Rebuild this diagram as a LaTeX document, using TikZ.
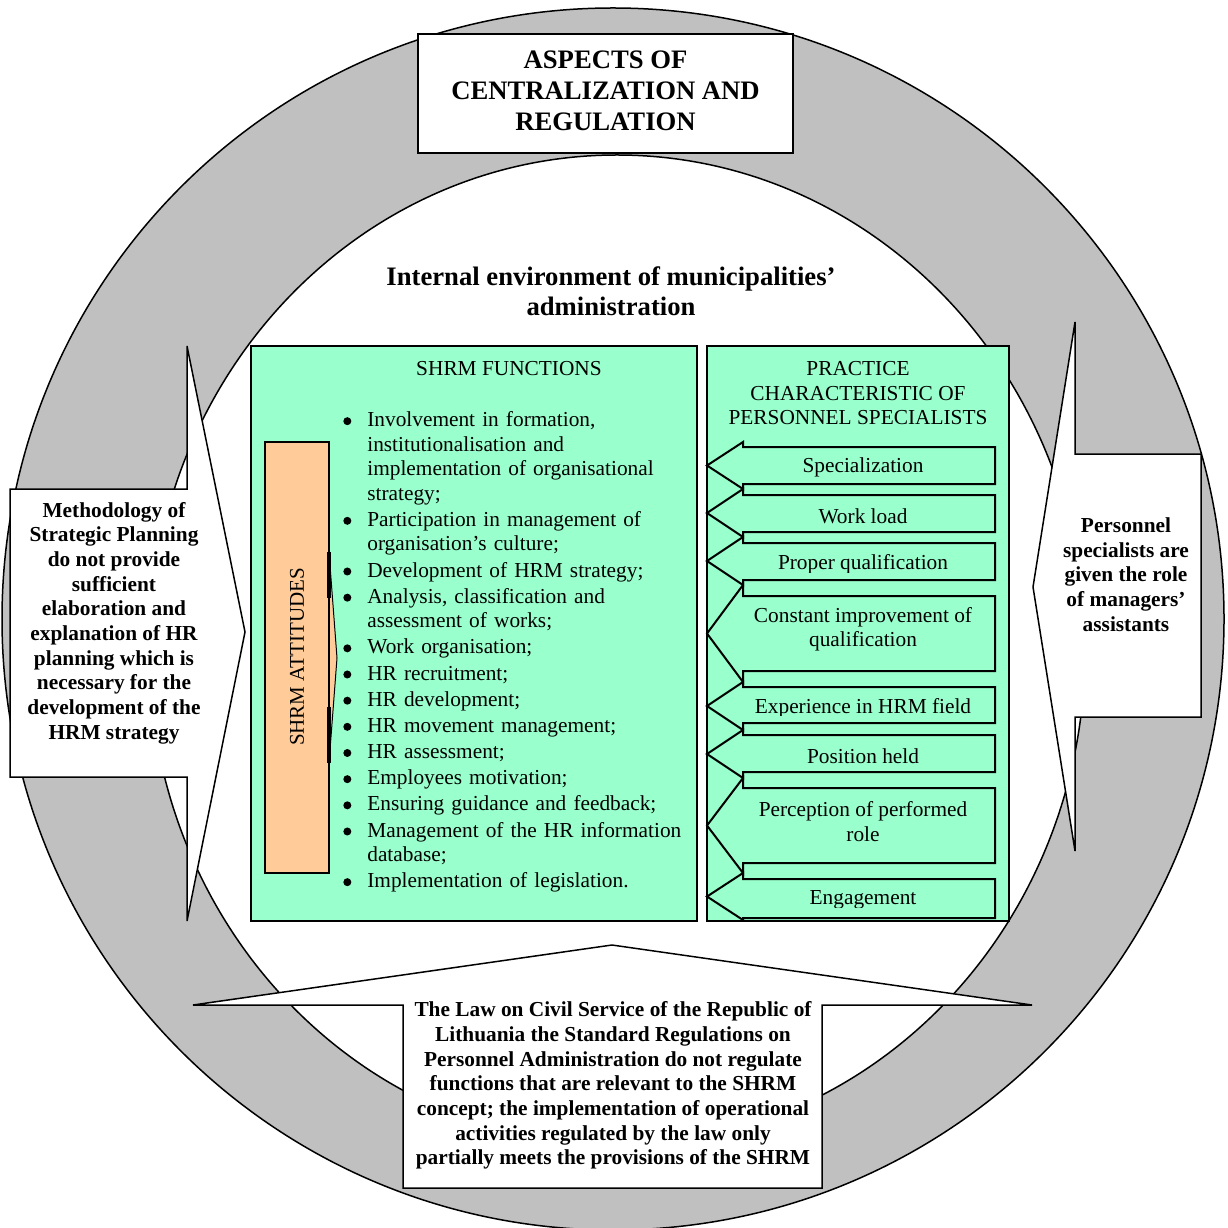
\documentclass[tikz,border=0pt]{standalone}
\usepackage{fontspec}
\setmainfont{Liberation Serif}
\definecolor{ringgray}{HTML}{C0C0C0}
\definecolor{mint}{HTML}{99FFCC}
\definecolor{peach}{HTML}{FFCC99}

\tikzset{
  boxframe/.style={draw=black, line width=1.2pt},
  callout/.style={draw=black, fill=white, line width=0.9pt},
  boldtext/.style={font=\fontsize{12.8}{14.8}\selectfont\bfseries, align=center, inner sep=0pt},
  plaintext/.style={font=\fontsize{12.8}{14.7}\selectfont, align=center, inner sep=0pt},
  headtext/.style={font=\fontsize{16}{18.6}\selectfont\bfseries, align=center, inner sep=0pt},
  parrow/.style={draw=black, fill=mint, line width=1.2pt},
}

% round list bullet
\newcommand\listdot{\tikz[baseline=0pt]\fill[black] (0pt,3.4pt) circle (2.4pt);}

% One left-pointing arrow of the practice column:
% #1 name, #2 body top, #3 body bottom, #4 head top, #5 head bottom,
% #6 text, #7 text centre, #8 lower edge of the text frame
\newcommand\practicearrow[8]{%
  \draw[parrow] (995,#2) -- (743,#2) -- (743,#4) -- (707,{(#4+#5)/2})
    -- (743,#5) -- (743,#3) -- (995,#3) -- cycle;
  \begin{scope}
    \clip (744,#2) rectangle (994,#8);
    \node[plaintext] (#1) at (863,#7) {#6};
  \end{scope}}

\begin{document}
\begin{tikzpicture}[x=0.6pt, y=-0.6pt]
\useasboundingbox (0,0) rectangle (1227,1228);
\fill[white] (0,0) rectangle (1227,1228);

% ring
\filldraw[fill=ringgray, draw=black, line width=0.9pt] (613,619) circle [radius=611];
\filldraw[fill=white, draw=black, line width=0.9pt] (617,650) ellipse [x radius=468, y radius=495];

% top heading box
\node[boxframe, fill=white, minimum width=375*0.6pt, minimum height=119*0.6pt,
      inner sep=0pt] (aspects) at (605.5,93.5) {};
\node[headtext] (aspectstxt) at (605.5,91) {ASPECTS OF\\CENTRALIZATION AND\\REGULATION};

% internal environment heading
\node[font=\fontsize{16}{18}\selectfont\bfseries, align=center, inner sep=0pt]
  (internal) at (611,291) {Internal environment of municipalities'\\administration};

% left callout
\draw[callout] (10,489) -- (187,489) -- (187,346) -- (245,632) -- (187,921)
  -- (187,777) -- (10,777) -- cycle;
\node[boldtext] (method) at (114,623) {Methodology of\\Strategic Planning\\do not provide\\sufficient\\elaboration and\\explanation of HR\\planning which is\\necessary for the\\development of the\\HRM strategy};

% right callout
\draw[callout] (1201,454) -- (1075,454) -- (1075,322) -- (1033,587) -- (1075,851)
  -- (1075,717) -- (1201,717) -- cycle;
\node[boldtext] (role) at (1126,574.5) {Personnel\\specialists are\\given the role\\of managers'\\assistants};

% bottom callout
\draw[callout] (403,1188) -- (403,1005) -- (193,1005) -- (612,945) -- (1032,1005)
  -- (822,1005) -- (822,1188) -- cycle;
\node[boldtext] (law) at (613,1085.5) {The Law on Civil Service of the Republic of\\Lithuania the Standard Regulations on\\Personnel Administration do not regulate\\functions that are relevant to the SHRM\\concept; the implementation of operational\\activities regulated by the law only\\partially meets the provisions of the SHRM};

% SHRM functions panel
\filldraw[boxframe, fill=mint] (251,346) rectangle (697,921);
\node[plaintext] (functitle) at (509,369) {SHRM FUNCTIONS};

% SHRM attitudes bar with its small pointer
\filldraw[draw=black, fill=peach, line width=0.6pt] (329,552) -- (337,658) -- (329,763) -- cycle;
\filldraw[boxframe, fill=peach] (265,442) rectangle (329,873);
\draw[line width=2pt] (329,552) -- (329,598) (329,707) -- (329,763);
\node[font=\fontsize{12.6}{14}\selectfont, rotate=90, inner sep=0pt] (attitudes) at (297,657) {SHRM ATTITUDES};

\node[anchor=north west, inner sep=0pt, text width=215pt,
      font=\fontsize{12.8}{14.7}\selectfont, align=left] (funcs) at (343,402) {%
\begin{list}{\listdot}{\setlength\leftmargin{14.4pt}\setlength\labelwidth{4.8pt}%
  \setlength\labelsep{9.6pt}\setlength\itemsep{1pt}\setlength\parsep{0pt}%
  \setlength\topsep{0pt}\setlength\partopsep{0pt}}
\item Involvement in formation,\\institutionalisation and\\implementation of organisational\\strategy;
\item Participation in management of\\organisation's culture;
\item Development of HRM strategy;
\item Analysis, classification and\\assessment of works;
\item Work organisation;
\item HR recruitment;
\item HR development;
\item HR movement management;
\item HR assessment;
\item Employees motivation;
\item Ensuring guidance and feedback;
\item Management of the HR information\\database;
\item Implementation of legislation.
\end{list}};

% practice characteristic panel
\filldraw[boxframe, fill=mint] (707,346) rectangle (1009,921);
\node[plaintext] (practitle) at (858,393.5) {PRACTICE\\CHARACTERISTIC OF\\PERSONNEL SPECIALISTS};

\practicearrow{spec}{447}{484}{442}{489}{Specialization}{467}{484}
\practicearrow{load}{495}{532}{489}{537}{Work load}{516}{532}
\practicearrow{proper}{543}{580}{537}{585}{Proper qualification}{564}{572}
\practicearrow{improve}{596}{671}{585}{682}{Constant improvement of\\qualification}{629.5}{671}
\practicearrow{exper}{687}{723}{682}{730}{Experience in HRM field}{708}{715}
\practicearrow{position}{735}{772}{730}{778}{Position held}{756}{772}
\practicearrow{percept}{788}{863}{778}{873}{Perception of performed\\role}{821.5}{863}
\practicearrow{engage}{879}{918}{873}{920}{Engagement}{900}{907}
\end{tikzpicture}
\end{document}
